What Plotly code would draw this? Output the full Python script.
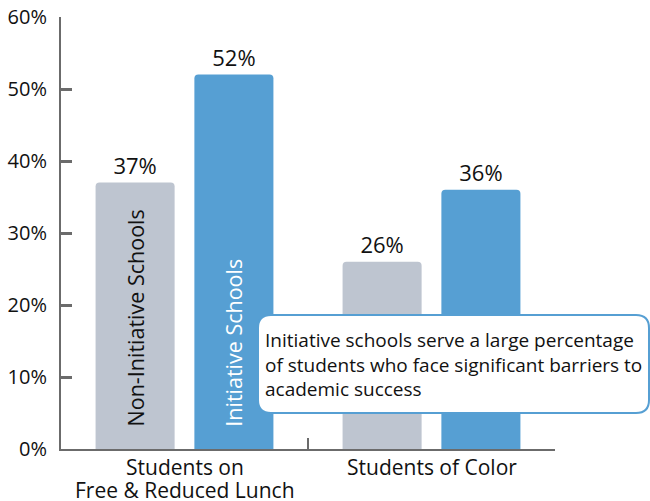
import plotly.graph_objects as go

# Chart data
categories = ["Students on<br>Free & Reduced Lunch", "Students of Color"]
series_names = ["Non-Initiative Schools", "Initiative Schools"]
non_initiative = [37, 26]
initiative = [52, 36]
y_ticks = [0, 10, 20, 30, 40, 50, 60]
y_tick_labels = ["0%", "10%", "20%", "30%", "40%", "50%", "60%"]
callout_text = ("Initiative schools serve a large percentage<br>"
                "of students who face significant barriers to<br>"
                "academic success")

# Styling
FONT = "Open Sans"
GREY = "#BEC5D0"
BLUE = "#569FD3"
AXIS = "#6b6b6b"
INK = "#111111"

W, H = 650, 501
M_L, M_R, M_T, M_B = 61, 95, 17, 52
PLOT_W = W - M_L - M_R
PLOT_H = H - M_T - M_B
BARGAP, BARGROUPGAP = 0.2, 0.2

fig = go.Figure()
for name, vals, color in [(series_names[0], non_initiative, GREY),
                          (series_names[1], initiative, BLUE)]:
    fig.add_trace(go.Bar(
        x=categories, y=vals, name=name,
        marker=dict(color=color, line=dict(width=0)),
        text=vals, texttemplate="%{text}%", textposition="outside",
        textfont=dict(family=FONT, size=22, color=INK),
        cliponaxis=False,
    ))

# Series names written vertically inside the first group's bars
slot_px = PLOT_W / len(categories) * (1 - BARGAP) / 2
for i, (name, col) in enumerate([(series_names[0], INK), (series_names[1], "white")]):
    fig.add_annotation(
        x=categories[0], y=2.8, xref="x", yref="y",
        xshift=(i - 0.5) * slot_px,
        text=name, textangle=-90, showarrow=False,
        xanchor="center", yanchor="bottom",
        font=dict(family=FONT, size=21.5, color=col),
    )

# Category labels under the axis, one annotation per line for tighter leading
LINE_STEP = 23
for cat in categories:
    for j, line in enumerate(cat.split("<br>")):
        fig.add_annotation(
            x=cat, y=0, xref="x", yref="paper",
            yshift=-(18 + j * LINE_STEP),
            text=line, showarrow=False,
            xanchor="center", yanchor="middle",
            font=dict(family=FONT, size=21, color=INK),
        )

# Rounded callout box (pixel geometry converted to paper coordinates)
def px_x(p):
    return (p - M_L) / PLOT_W

def px_y(p):
    return (M_T + PLOT_H - p) / PLOT_H

bx0, bx1, by0, by1, r = 258, 649, 315, 413, 13
X0, X1, Y0, Y1 = px_x(bx0), px_x(bx1), px_y(by1), px_y(by0)
rx, ry = r / PLOT_W, r / PLOT_H
path = (f"M {X0+rx},{Y1} L {X1-rx},{Y1} Q {X1},{Y1} {X1},{Y1-ry} "
        f"L {X1},{Y0+ry} Q {X1},{Y0} {X1-rx},{Y0} "
        f"L {X0+rx},{Y0} Q {X0},{Y0} {X0},{Y0+ry} "
        f"L {X0},{Y1-ry} Q {X0},{Y1} {X0+rx},{Y1} Z")
fig.add_shape(type="path", path=path, xref="paper", yref="paper",
              fillcolor="white", line=dict(color=BLUE, width=2), layer="above")
fig.add_annotation(
    x=px_x(263), y=(Y0 + Y1) / 2, xref="paper", yref="paper",
    text=callout_text, showarrow=False, align="left",
    xanchor="left", yanchor="middle",
    font=dict(family=FONT, size=19, color=INK),
)

fig.update_layout(
    width=W, height=H,
    margin=dict(l=M_L, r=M_R, t=M_T, b=M_B, pad=0, autoexpand=False),
    paper_bgcolor="white", plot_bgcolor="white",
    barmode="group", bargap=BARGAP, bargroupgap=BARGROUPGAP,
    barcornerradius=4,
    showlegend=False,
    font=dict(family=FONT, color=INK),
)
fig.update_xaxes(
    type="category", range=[-0.5, 1.5], automargin=False,
    showticklabels=False,
    showline=True, linecolor=AXIS, linewidth=2,
    ticks="inside", tickson="boundaries", ticklen=11, tickwidth=1.5, tickcolor=AXIS,
    showgrid=False, zeroline=False,
)
fig.update_yaxes(
    range=[0, 60], tickmode="array", tickvals=y_ticks, ticktext=y_tick_labels,
    automargin=False,
    showline=True, linecolor=AXIS, linewidth=2,
    ticks="inside", ticklen=11, tickwidth=3, tickcolor=AXIS,
    tickfont=dict(family=FONT, size=20, color=INK),
    ticklabelstandoff=8,
    showgrid=False, zeroline=False,
)

fig.write_html("out.html")
